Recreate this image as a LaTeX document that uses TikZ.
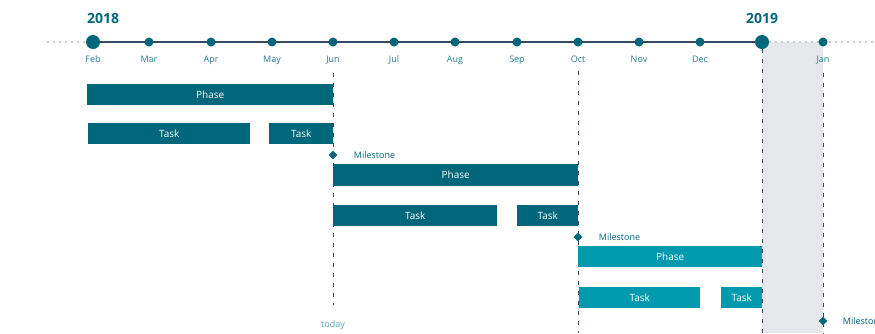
\documentclass[tikz,border=0pt]{standalone}
\usepackage{fontspec}
\setmainfont{Open Sans}
\usetikzlibrary{positioning, shapes.geometric}
\definecolor{tealdark}{HTML}{00667A}
\definecolor{teallight}{HTML}{0099AE}
\definecolor{slateline}{HTML}{34495E}
\definecolor{shadegray}{HTML}{E6E7EB}
\definecolor{dotgray}{HTML}{C5CAD0}
\definecolor{todaytext}{HTML}{5B9FB0}
\tikzset{
	monthdot/.style={circle, fill=tealdark, inner sep=0pt, minimum size=9pt},
	yeardot/.style={circle, fill=tealdark, inner sep=0pt, minimum size=14pt},
	monthtext/.style={font=\fontsize{9}{10}\selectfont, text=tealdark!85!white, anchor=base, inner sep=0pt},
	yeartext/.style={font=\fontsize{14}{16}\selectfont\bfseries, text=tealdark, inner sep=0pt}
}
\tikzset{
	phasebar/.style={fill=tealdark, text=white, anchor=north west, inner sep=0pt,
		minimum height=21pt, font=\fontsize{10}{12}\selectfont},
	laterbar/.style={phasebar, fill=teallight},
	milestone/.style={diamond, fill=tealdark, inner sep=0pt, minimum size=9pt},
	milestonetext/.style={font=\fontsize{9}{10}\selectfont, text=tealdark, inner sep=0pt},
	guide/.style={slateline, line width=0.8pt, dash pattern=on 4pt off 6pt}
}

\begin{document}
\begin{tikzpicture}[x=1pt, y=-1pt]
	\clip (0,0) rectangle (875,333);
	% this year's remainder
	\fill[shadegray] (762,42) rectangle (823,333);
	% axis
	\coordinate (leftend) at (47,42);
	\coordinate (rightend) at (875,42);
	\node[yeardot] (Feb) at (93,42) {};
	\node[yeardot] (y2019) at (762,42) {};
	\draw[dotgray, line width=2pt, dash pattern=on 1.5pt off 4.5pt] (leftend) -- (Feb.west);
	\draw[dotgray, line width=2pt, dash pattern=on 1.5pt off 4.5pt] (y2019.east) -- (rightend);
	\draw[slateline, line width=1.8pt] (Feb) -- (y2019);
	\node[yeartext, anchor=base west] (yr2018) at (87,23) {2018};
	\node[yeartext, anchor=base] (yr2019) at (762,23) {2019};
	\node[monthtext] (Feb-lbl) at (93,62) {Feb};
	\foreach \m/\x in {Mar/149, Apr/211, May/272, Jun/333, Jul/394, Aug/455,
			Sep/517, Oct/578, Nov/639, Dec/700, Jan/823} {
		\node[monthdot] (\m) at (\x,42) {};
		\node[monthtext] (\m-lbl) at (\x,62) {\m};
	}
	% guide lines
	\coordinate (junend) at (333,305);
	\coordinate (octend) at (578,333);
	\coordinate (decend) at (762,333);
	\coordinate (janend) at (823,333);
	\draw[guide] ([yshift=-9pt]Jun-lbl.south) -- (junend);
	\draw[guide] ([yshift=-9pt]Oct-lbl.south) -- (octend);
	\draw[guide] (y2019.south) -- (decend);
	\draw[guide] ([yshift=-9pt]Jan-lbl.south) -- (janend);
	\node[font=\fontsize{9}{10}\selectfont, text=todaytext, anchor=base, inner sep=0pt]
		(today) at (333,327) {today};
	% first phase
	\node[phasebar, minimum width=246pt] (phaseA) at (87,84) {Phase};
	\node[phasebar, minimum width=162pt] (taskA1) at (88,123) {Task};
	\node[phasebar, minimum width=64pt] (taskA2) at (269,123) {Task};
	\node[milestone] (msA) at (333,155) {};
	\node[milestonetext, right=16pt of msA] (msA-lbl) {Milestone};
	% second phase
	\node[phasebar, minimum width=245pt, minimum height=22pt] (phaseB) at (333,164) {Phase};
	\node[phasebar, minimum width=164pt] (taskB1) at (333,205) {Task};
	\node[phasebar, minimum width=61pt] (taskB2) at (517,205) {Task};
	\node[milestone] (msB) at (578,237) {};
	\node[milestonetext, right=16pt of msB] (msB-lbl) {Milestone};
	% third phase
	\node[laterbar, minimum width=184pt] (phaseC) at (578,246) {Phase};
	\node[laterbar, minimum width=121pt] (taskC1) at (579,287) {Task};
	\node[laterbar, minimum width=41pt] (taskC2) at (721,287) {Task};
	\node[milestone] (msC) at (823,321) {};
	\node[milestonetext, right=15pt of msC] (msC-lbl) {Milestone};
\end{tikzpicture}
\end{document}
